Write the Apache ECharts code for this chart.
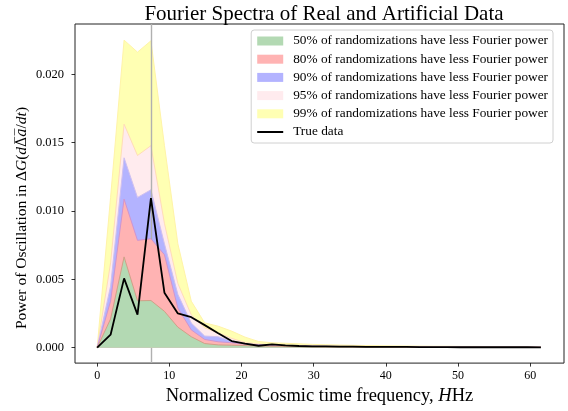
<!DOCTYPE html>
<html>
<head>
<meta charset="utf-8">
<script src="https://cdn.jsdelivr.net/npm/echarts@6/dist/echarts.min.js"></script>
<style>html,body{margin:0;padding:0;background:#fff}#c{width:568px;height:411px}</style>
</head>
<body>
<div id="c"></div>
<script>
const freq = [0, 1.86, 3.73, 5.59, 7.45, 9.32, 11.18, 13.04, 14.9, 16.77, 18.63, 20.49, 22.36, 24.22, 26.08, 27.95, 29.81, 31.67, 33.53, 35.4, 37.26, 39.12, 40.99, 42.85, 44.71, 46.58, 48.44, 50.3, 52.16, 54.03, 55.89, 57.75, 59.62, 61.48];
const p50 = [0, 0.0021, 0.00664, 0.00343, 0.00345, 0.00266, 0.00150, 0.00080, 0.00030, 0.00020, 0.00018, 0.00015, 0.00012, 0.00010, 0.00008, 0.00007, 0.00006, 0.00005, 0.00005, 0.00004, 0.00004, 0.00004, 0.00003, 0.00003, 0.00003, 0.00003, 0.00002, 0.00002, 0.00002, 0.00002, 0.00002, 0.00002, 0.00002, 0.00002];
const p80 = [0, 0.0034, 0.01087, 0.00785, 0.00797, 0.0068, 0.0029, 0.0013, 0.0006, 0.00043, 0.00036, 0.00026, 0.00020, 0.00016, 0.00013, 0.00011, 0.00010, 0.00009, 0.00008, 0.00007, 0.00006, 0.00006, 0.00005, 0.00005, 0.00005, 0.00004, 0.00004, 0.00004, 0.00004, 0.00003, 0.00003, 0.00003, 0.00003, 0.00003];
const p90 = [0, 0.0045, 0.01389, 0.01099, 0.01155, 0.0076, 0.0039, 0.0018, 0.00085, 0.0008, 0.00048, 0.00028, 0.00022, 0.00018, 0.00015, 0.00013, 0.00011, 0.00010, 0.00009, 0.00008, 0.00008, 0.00007, 0.00006, 0.00006, 0.00006, 0.00005, 0.00005, 0.00005, 0.00004, 0.00004, 0.00004, 0.00004, 0.00004, 0.00004];
const p95 = [0, 0.0062, 0.01635, 0.01406, 0.01478, 0.0091, 0.0047, 0.0024, 0.00145, 0.00109, 0.00068, 0.00038, 0.00026, 0.00021, 0.00018, 0.00015, 0.00013, 0.00012, 0.00011, 0.00010, 0.00009, 0.00008, 0.00008, 0.00007, 0.00007, 0.00006, 0.00006, 0.00006, 0.00005, 0.00005, 0.00005, 0.00005, 0.00005, 0.00005];
const p99 = [0, 0.0110, 0.02250, 0.02162, 0.02245, 0.0148, 0.0076, 0.0034, 0.00181, 0.00157, 0.00121, 0.00077, 0.00045, 0.00036, 0.00032, 0.00028, 0.00024, 0.00021, 0.00019, 0.00017, 0.00015, 0.00014, 0.00013, 0.00012, 0.00011, 0.00010, 0.00010, 0.00009, 0.00009, 0.00008, 0.00008, 0.00008, 0.00007, 0.00007];
const trueData = [0, 0.00095, 0.00507, 0.00242, 0.01094, 0.00402, 0.00250, 0.00223, 0.00165, 0.00106, 0.00048, 0.00030, 0.00014, 0.00024, 0.00016, 0.00012, 0.00010, 0.00009, 0.00008, 0.00007, 0.00006, 0.00006, 0.00005, 0.00005, 0.00004, 0.00004, 0.00004, 0.00003, 0.00003, 0.00003, 0.00003, 0.00003, 0.00003, 0.00002];
const xTicks = [0, 10, 20, 30, 40, 50, 60];
const yTicks = [0, 0.005, 0.010, 0.015, 0.020];
const bandNames = ['50% of randomizations have less Fourier power','80% of randomizations have less Fourier power','90% of randomizations have less Fourier power','95% of randomizations have less Fourier power','99% of randomizations have less Fourier power'];
const trueName = 'True data';

const FONT = 'Liberation Serif';
const pair = arr => arr.map((v, i) => [freq[i], v]);
const peakX = freq[trueData.indexOf(Math.max(...trueData))];

const bands = [
  {name: bandNames[4], data: p99, fill: '#ffffb3', edge: '#fff4a8'},
  {name: bandNames[3], data: p95, fill: '#ffebee', edge: '#ffdcb8'},
  {name: bandNames[2], data: p90, fill: '#b3b3ff', edge: '#cfc0f0'},
  {name: bandNames[1], data: p80, fill: '#ffb3b3', edge: '#cf95d0'},
  {name: bandNames[0], data: p50, fill: '#b3d9b3', edge: '#d0a088'}
];

const series = bands.map((b, k) => ({
  name: b.name, type: 'line', data: pair(b.data), symbol: 'none', z: 2 + k,
  itemStyle: {color: b.fill},
  lineStyle: {color: b.edge, width: 1},
  areaStyle: {color: b.fill, opacity: 1},
  silent: true, animation: false
}));
series.push({
  name: trueName, type: 'line', data: pair(trueData), symbol: 'none', z: 10,
  itemStyle: {color: '#000'},
  lineStyle: {color: '#000', width: 1.8},
  animation: false,
  markLine: {
    silent: true, symbol: 'none', label: {show: false},
    lineStyle: {color: '#b0b0b0', width: 1.4, type: 'solid'},
    data: [{xAxis: peakX}], animation: false
  }
});

const chart = echarts.init(document.getElementById('c'), null, {renderer: 'canvas'});
chart.setOption({
  backgroundColor: '#fff',
  animation: false,
  textStyle: {fontFamily: FONT},
  title: {
    text: 'Fourier Spectra of Real and Artificial Data',
    left: 319, top: -1, textAlign: 'center',
    textStyle: {fontFamily: FONT, fontSize: 21, fontWeight: 'normal', color: '#000'}
  },
  grid: {left: 75, right: 4, top: 24, bottom: 45, show: true, borderColor: '#222', borderWidth: 1, backgroundColor: 'transparent'},
  legend: {
    orient: 'vertical', right: 15, top: 30,
    padding: [4, 5, 4, 6],
    backgroundColor: 'rgba(255,255,255,0.8)',
    borderColor: '#d0d0d0', borderWidth: 1, borderRadius: 3,
    itemWidth: 26, itemHeight: 9, itemGap: 4.2,
    textStyle: {fontFamily: FONT, fontSize: 13.3, color: '#000', lineHeight: 14, padding: [0, 0, 0, 5]},
    data: [
      {name: bandNames[0], icon: 'rect', itemStyle: {color: '#b3d9b3', borderWidth: 0}},
      {name: bandNames[1], icon: 'rect', itemStyle: {color: '#ffb3b3', borderWidth: 0}},
      {name: bandNames[2], icon: 'rect', itemStyle: {color: '#b3b3ff', borderWidth: 0}},
      {name: bandNames[3], icon: 'rect', itemStyle: {color: '#ffebee', borderWidth: 0}},
      {name: bandNames[4], icon: 'rect', itemStyle: {color: '#ffffb3', borderWidth: 0}},
      {name: trueName, icon: 'path://M0,0 L26,0 L26,0.01 L0,0.01 Z M0,3.6 L26,3.6 L26,5.4 L0,5.4 Z M0,8.99 L26,8.99 L26,9 L0,9 Z', itemStyle: {color: '#000', borderWidth: 0}}
    ],
    selectedMode: false
  },
  xAxis: {
    type: 'value', min: -3.07, max: 64.68,
    axisLine: {show: false, onZero: false},
    splitLine: {show: false},
    axisTick: {show: true, length: 3.5, lineStyle: {color: '#000', width: 0.8}, customValues: xTicks},
    axisLabel: {fontFamily: FONT, fontSize: 12, color: '#000', margin: 7, customValues: xTicks, formatter: v => String(v)},
    name: 'Normalized Cosmic time frequency, {i|H}Hz',
    nameLocation: 'middle', nameGap: 21,
    nameTextStyle: {fontFamily: FONT, fontSize: 18.5, color: '#000', rich: {i: {fontFamily: FONT, fontStyle: 'italic', fontSize: 18.5, color: '#000'}}}
  },
  yAxis: {
    type: 'value', min: -0.00113, max: 0.02368,
    axisLine: {show: false, onZero: false},
    splitLine: {show: false},
    axisTick: {show: true, length: 3.5, lineStyle: {color: '#000', width: 0.8}, customValues: yTicks},
    axisLabel: {fontFamily: FONT, fontSize: 12.5, color: '#000', margin: 11, customValues: yTicks, formatter: v => v.toFixed(3)}
  },
  graphic: [{
    type: 'text', x: 22, y: 218, rotation: Math.PI / 2,
    style: {
      text: 'Power of Oscillation in Δ{i|G}({i|d}{o|Δ̅}{oi|a̅}/{i|dt})',
      fontFamily: FONT, fontSize: 15.5, fill: '#000',
      align: 'center', verticalAlign: 'middle',
      rich: {
        i: {fontFamily: FONT, fontStyle: 'italic', fontSize: 15.5, fill: '#000'},
        o: {fontFamily: 'DejaVu Serif', fontSize: 14, fill: '#000'},
        oi: {fontFamily: 'DejaVu Serif', fontStyle: 'italic', fontSize: 14, fill: '#000'}
      }
    }
  }],
  series: series
});
</script>
</body>
</html>
